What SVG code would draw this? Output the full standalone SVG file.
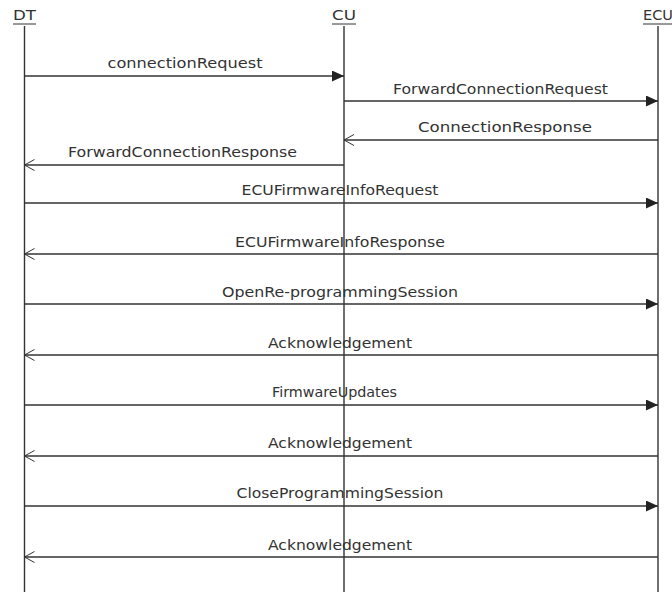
<svg xmlns="http://www.w3.org/2000/svg" width="672" height="594" viewBox="0 0 672 594">
<defs>
<style>
text{font-family:"DejaVu Sans","Liberation Sans",sans-serif;font-size:13.5px;fill:#333;text-anchor:middle}
.life{stroke:#333;stroke-width:1.4;fill:none}
.msg{stroke:#333;stroke-width:1.4;fill:none}
.ul{stroke:#333;stroke-width:1}
</style>
<marker id="fill" markerWidth="13" markerHeight="11" refX="12" refY="5.5" orient="auto" markerUnits="userSpaceOnUse">
<path d="M0,0 L12,5.5 L0,11 Z" fill="#222"/>
</marker>
<marker id="open" markerWidth="13" markerHeight="12" refX="11" refY="6" orient="auto" markerUnits="userSpaceOnUse">
<path d="M1,0.5 L11,6 L1,11.5" fill="none" stroke="#333" stroke-width="1"/>
</marker>
</defs>
<rect width="672" height="594" fill="#fff"/>
<g id="DT">
<text x="24.5" y="20" textLength="23" lengthAdjust="spacingAndGlyphs">DT</text>
<line class="ul" x1="13" y1="24" x2="36" y2="24"/>
<line class="life" x1="24.5" y1="26" x2="24.5" y2="592"/>
</g>
<g id="CU">
<text x="344" y="20" textLength="24" lengthAdjust="spacingAndGlyphs">CU</text>
<line class="ul" x1="332" y1="24" x2="356" y2="24"/>
<line class="life" x1="344" y1="26" x2="344" y2="592"/>
</g>
<g id="ECU">
<text x="658" y="20" textLength="30" lengthAdjust="spacingAndGlyphs">ECU</text>
<line class="ul" x1="643" y1="24" x2="673" y2="24"/>
<line class="life" x1="658" y1="26" x2="658" y2="592"/>
</g>
<g id="connectors">
<line class="msg" x1="24.5" y1="76" x2="344" y2="76" marker-end="url(#fill)"/>
<text x="185" y="68" textLength="155" lengthAdjust="spacingAndGlyphs">connectionRequest</text>
<line class="msg" x1="344" y1="101" x2="658" y2="101" marker-end="url(#fill)"/>
<text x="500.5" y="94" textLength="215" lengthAdjust="spacingAndGlyphs">ForwardConnectionRequest</text>
<line class="msg" x1="658" y1="140" x2="344" y2="140" marker-end="url(#open)"/>
<text x="505" y="132" textLength="174" lengthAdjust="spacingAndGlyphs">ConnectionResponse</text>
<line class="msg" x1="344" y1="165" x2="24.5" y2="165" marker-end="url(#open)"/>
<text x="182.5" y="157" textLength="229" lengthAdjust="spacingAndGlyphs">ForwardConnectionResponse</text>
<line class="msg" x1="24.5" y1="203" x2="658" y2="203" marker-end="url(#fill)"/>
<text x="340" y="195" textLength="197" lengthAdjust="spacingAndGlyphs">ECUFirmwareInfoRequest</text>
<line class="msg" x1="658" y1="254" x2="24.5" y2="254" marker-end="url(#open)"/>
<text x="340" y="247" textLength="210" lengthAdjust="spacingAndGlyphs">ECUFirmwareInfoResponse</text>
<line class="msg" x1="24.5" y1="304" x2="658" y2="304" marker-end="url(#fill)"/>
<text x="340" y="297" textLength="236" lengthAdjust="spacingAndGlyphs">OpenRe-programmingSession</text>
<line class="msg" x1="658" y1="355" x2="24.5" y2="355" marker-end="url(#open)"/>
<text x="340" y="348" textLength="144" lengthAdjust="spacingAndGlyphs">Acknowledgement</text>
<line class="msg" x1="24.5" y1="405" x2="658" y2="405" marker-end="url(#fill)"/>
<text x="334.5" y="397" textLength="125" lengthAdjust="spacingAndGlyphs">FirmwareUpdates</text>
<line class="msg" x1="658" y1="456" x2="24.5" y2="456" marker-end="url(#open)"/>
<text x="340" y="448" textLength="144" lengthAdjust="spacingAndGlyphs">Acknowledgement</text>
<line class="msg" x1="24.5" y1="506" x2="658" y2="506" marker-end="url(#fill)"/>
<text x="340" y="498" textLength="207" lengthAdjust="spacingAndGlyphs">CloseProgrammingSession</text>
<line class="msg" x1="658" y1="557" x2="24.5" y2="557" marker-end="url(#open)"/>
<text x="340" y="550" textLength="144" lengthAdjust="spacingAndGlyphs">Acknowledgement</text>
</g>
</svg>
